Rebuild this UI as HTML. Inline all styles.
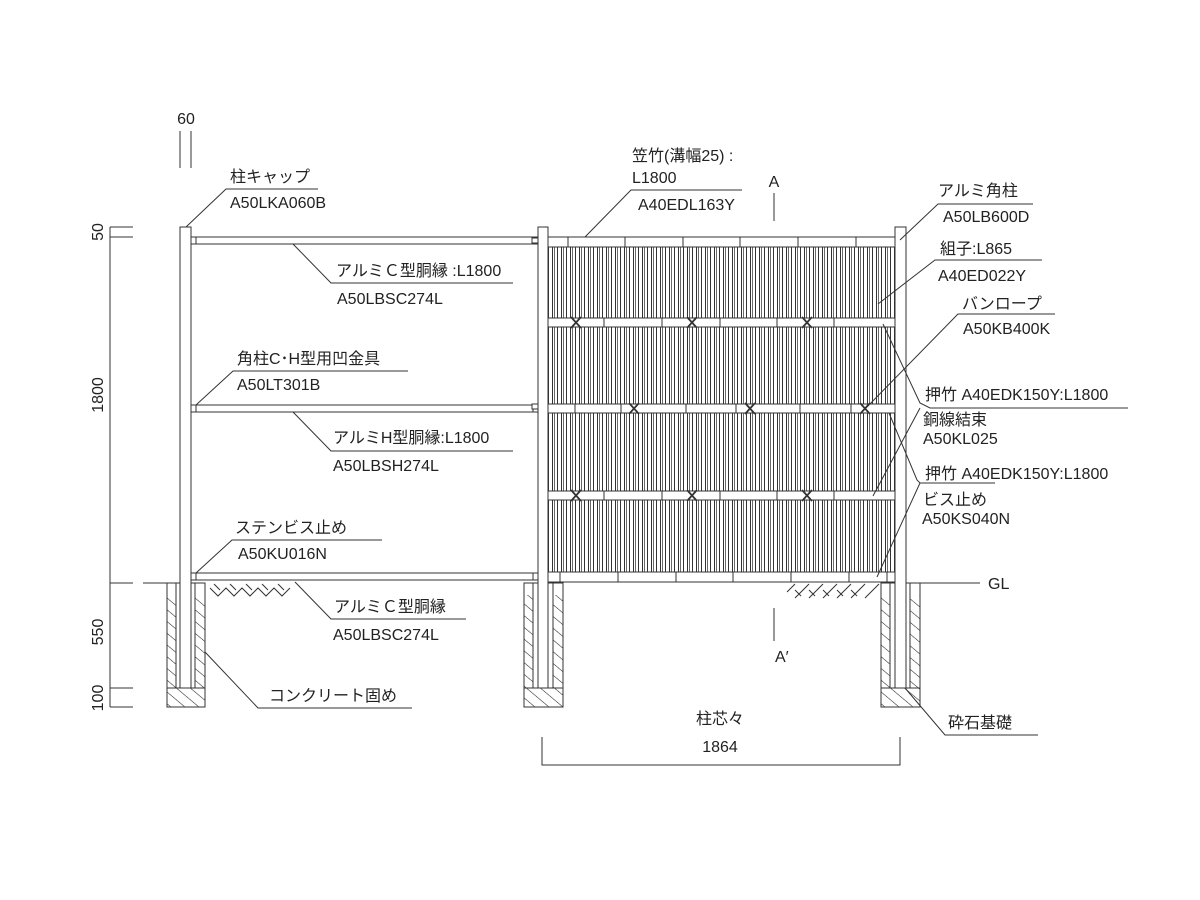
<!DOCTYPE html>
<html><head><meta charset="utf-8"><style>
html,body{margin:0;padding:0;background:#fff;}
svg{display:block;}
text{font-family:"Liberation Sans","Noto Sans CJK JP",sans-serif;font-size:16px;fill:#222;}
</style></head><body>
<svg width="1200" height="900" viewBox="0 0 1200 900" xmlns="http://www.w3.org/2000/svg">
<defs>
<pattern id="slat" width="9" height="10" patternUnits="userSpaceOnUse" x="548">
<rect width="9" height="10" fill="#fff"/>
<line x1="0.5" y1="0" x2="0.5" y2="10" stroke="#333" stroke-width="1"/>
<line x1="4.5" y1="0" x2="4.5" y2="10" stroke="#333" stroke-width="1"/>
<line x1="6.5" y1="0" x2="6.5" y2="10" stroke="#444" stroke-width="0.8"/>
</pattern>
<pattern id="hatch" width="9" height="9" patternUnits="userSpaceOnUse" patternTransform="rotate(-50)">
<line x1="0" y1="0" x2="0" y2="9" stroke="#222" stroke-width="1.1"/>
</pattern>
</defs>
<g stroke="#333" stroke-width="1" fill="none">
<line x1="110" y1="227" x2="110" y2="707"/>
<line x1="110" y1="227" x2="133" y2="227"/><line x1="110" y1="237" x2="133" y2="237"/>
<line x1="110" y1="583" x2="133" y2="583"/><line x1="110" y1="688" x2="133" y2="688"/><line x1="110" y1="707" x2="133" y2="707"/>
<line x1="180" y1="131" x2="180" y2="168"/><line x1="191" y1="131" x2="191" y2="168"/>
<line x1="143" y1="583" x2="180" y2="583"/>
<line x1="905" y1="583" x2="980" y2="583"/>
<g>
<rect x="167" y="583" width="38" height="124" fill="#fff"/>
<rect x="167" y="595" width="9" height="93" fill="url(#hatch)" stroke="none"/>
<rect x="195" y="595" width="10" height="93" fill="url(#hatch)" stroke="none"/>
<rect x="167" y="688" width="38" height="19" fill="url(#hatch)"/>
<line x1="176" y1="583" x2="176" y2="688"/><line x1="195" y1="583" x2="195" y2="688"/>
</g>
<g>
<rect x="524" y="583" width="39" height="124" fill="#fff"/>
<rect x="524" y="595" width="9" height="93" fill="url(#hatch)" stroke="none"/>
<rect x="553" y="595" width="10" height="93" fill="url(#hatch)" stroke="none"/>
<rect x="524" y="688" width="39" height="19" fill="url(#hatch)"/>
<line x1="533" y1="583" x2="533" y2="688"/><line x1="553" y1="583" x2="553" y2="688"/>
</g>
<g>
<rect x="881" y="583" width="39" height="124" fill="#fff"/>
<rect x="881" y="595" width="9" height="93" fill="url(#hatch)" stroke="none"/>
<rect x="910" y="595" width="10" height="93" fill="url(#hatch)" stroke="none"/>
<rect x="881" y="688" width="39" height="19" fill="url(#hatch)"/>
<line x1="890" y1="583" x2="890" y2="688"/><line x1="910" y1="583" x2="910" y2="688"/>
</g>
<path d="M210 588 l8 8 l8 -8 l8 8 l8 -8 l8 8 l8 -8 l8 8 l8 -8 l8 8 l8 -8 M214 584 l6 6 M230 584 l6 6 M246 584 l6 6 M262 584 l6 6 M278 584 l6 6"/>
<path d="M787 592 l8 -8 M795 598 l14 -14 M809 598 l14 -14 M823 598 l14 -14 M837 598 l14 -14 M851 598 l14 -14 M865 598 l14 -14 M795 590 l6 6 M809 590 l6 6 M823 590 l6 6 M837 590 l6 6 M851 590 l6 6"/>
<rect x="191" y="237" width="347" height="7" fill="#fff"/>
<rect x="191" y="405" width="347" height="7" fill="#fff"/>
<rect x="191" y="573" width="347" height="7" fill="#fff"/>
<line x1="196" y1="237" x2="196" y2="244"/><line x1="533" y1="237" x2="533" y2="244"/>
<line x1="196" y1="405" x2="196" y2="412"/><line x1="533" y1="405" x2="533" y2="412"/>
<line x1="196" y1="573" x2="196" y2="580"/><line x1="533" y1="573" x2="533" y2="580"/>
<rect x="548" y="247" width="347" height="333" fill="url(#slat)"/>
<rect x="548" y="237" width="347" height="10" fill="#fff"/>
<line x1="568" y1="237" x2="568" y2="247"/><line x1="625" y1="237" x2="625" y2="247"/><line x1="683" y1="237" x2="683" y2="247"/><line x1="740" y1="237" x2="740" y2="247"/><line x1="798" y1="237" x2="798" y2="247"/><line x1="856" y1="237" x2="856" y2="247"/>
<rect x="548" y="318" width="347" height="9" fill="#fff"/>
<line x1="604" y1="318" x2="604" y2="327"/><line x1="662" y1="318" x2="662" y2="327"/><line x1="720" y1="318" x2="720" y2="327"/><line x1="777" y1="318" x2="777" y2="327"/><line x1="834" y1="318" x2="834" y2="327"/>
<rect x="548" y="404" width="347" height="9" fill="#fff"/>
<line x1="575" y1="404" x2="575" y2="413"/><line x1="621" y1="404" x2="621" y2="413"/><line x1="686" y1="404" x2="686" y2="413"/><line x1="736" y1="404" x2="736" y2="413"/><line x1="800" y1="404" x2="800" y2="413"/><line x1="851" y1="404" x2="851" y2="413"/>
<rect x="548" y="491" width="347" height="9" fill="#fff"/>
<line x1="604" y1="491" x2="604" y2="500"/><line x1="662" y1="491" x2="662" y2="500"/><line x1="720" y1="491" x2="720" y2="500"/><line x1="777" y1="491" x2="777" y2="500"/><line x1="834" y1="491" x2="834" y2="500"/>
<rect x="548" y="572" width="347" height="10" fill="#fff"/>
<line x1="560" y1="572" x2="560" y2="582"/><line x1="618" y1="572" x2="618" y2="582"/><line x1="676" y1="572" x2="676" y2="582"/><line x1="733" y1="572" x2="733" y2="582"/><line x1="791" y1="572" x2="791" y2="582"/><line x1="849" y1="572" x2="849" y2="582"/><line x1="887" y1="572" x2="887" y2="582"/>
<g stroke-width="1.8">
<path d="M571 317 l10 11 M581 317 l-10 11 M687 317 l10 11 M697 317 l-10 11 M802 317 l10 11 M812 317 l-10 11"/>
<path d="M629 403 l10 11 M639 403 l-10 11 M745 403 l10 11 M755 403 l-10 11 M860 403 l10 11 M870 403 l-10 11"/>
<path d="M571 490 l10 11 M581 490 l-10 11 M687 490 l10 11 M697 490 l-10 11 M802 490 l10 11 M812 490 l-10 11"/>
</g>
<rect x="180" y="227" width="11" height="461" fill="#fff"/>
<rect x="538" y="227" width="10" height="461" fill="#fff"/>
<rect x="895" y="227" width="11" height="461" fill="#fff"/>
<rect x="532" y="238" width="6" height="5" fill="#fff"/><rect x="532" y="404" width="6" height="5" fill="#fff"/>
<line x1="774" y1="193" x2="774" y2="221"/>
<line x1="774" y1="608" x2="774" y2="641"/>
<path d="M542 737 V765 H900 V737"/>
<path d="M186 227 L226 189 H318"/>
<path d="M293 244 L331 283 H513"/>
<path d="M196 405 L233 371 H408"/>
<path d="M293 412 L331 451 H513"/>
<path d="M196 573 L232 540 H382"/>
<path d="M295 582 L331 619 H466"/>
<path d="M205 652 L258 708 H412"/>
<path d="M585 237 L631 190 H742"/>
<path d="M900 240 L938 204 H1033"/>
<path d="M878 304 L935 260 H1042"/>
<path d="M865 409 L958 314 H1055"/>
<path d="M883 324 L920 403 L930 408 H1128"/>
<path d="M889 413 L917 480 L920 483 H995"/>
<path d="M873 496 L920 408"/>
<path d="M877 577 L920 483"/>
<path d="M905 688 L945 735 H1038"/>
</g>
<text x="186" y="124" text-anchor="middle">60</text>
<text transform="translate(103,232) rotate(-90)" text-anchor="middle">50</text>
<text transform="translate(103,395) rotate(-90)" text-anchor="middle">1800</text>
<text transform="translate(103,632) rotate(-90)" text-anchor="middle">550</text>
<text transform="translate(103,698) rotate(-90)" text-anchor="middle">100</text>
<text x="230" y="182">柱キャップ</text>
<text x="230" y="208">A50LKA060B</text>
<text x="336" y="276">アルミＣ型胴縁 :L1800</text>
<text x="337" y="304">A50LBSC274L</text>
<text x="237" y="364">角柱C･H型用凹金具</text>
<text x="237" y="390">A50LT301B</text>
<text x="333" y="443">アルミH型胴縁:L1800</text>
<text x="333" y="471">A50LBSH274L</text>
<text x="235" y="533">ステンビス止め</text>
<text x="238" y="559">A50KU016N</text>
<text x="334" y="612">アルミＣ型胴縁</text>
<text x="333" y="640">A50LBSC274L</text>
<text x="269" y="701">コンクリート固め</text>
<text x="632" y="161">笠竹(溝幅25) :</text>
<text x="632" y="183">L1800</text>
<text x="638" y="210">A40EDL163Y</text>
<text x="774" y="187" text-anchor="middle">A</text>
<text x="775" y="662">A′</text>
<text x="938" y="196">アルミ角柱</text>
<text x="943" y="222">A50LB600D</text>
<text x="940" y="254">組子:L865</text>
<text x="938" y="281">A40ED022Y</text>
<text x="962" y="309">バンロープ</text>
<text x="963" y="334">A50KB400K</text>
<text x="925" y="400">押竹 A40EDK150Y:L1800</text>
<text x="923" y="425">銅線結束</text>
<text x="923" y="444">A50KL025</text>
<text x="925" y="479">押竹 A40EDK150Y:L1800</text>
<text x="923" y="505">ビス止め</text>
<text x="922" y="524">A50KS040N</text>
<text x="988" y="589">GL</text>
<text x="948" y="728">砕石基礎</text>
<text x="720" y="724" text-anchor="middle">柱芯々</text>
<text x="720" y="752" text-anchor="middle">1864</text>
</svg>
</body></html>
